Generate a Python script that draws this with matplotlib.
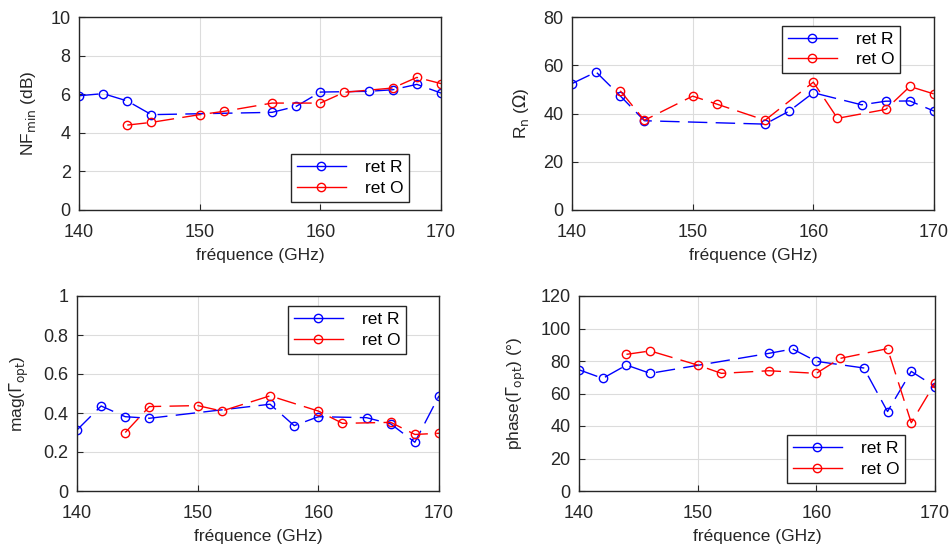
import matplotlib
matplotlib.use("Agg")
import matplotlib.pyplot as plt

plt.rcParams['font.family'] = ['Liberation Sans', 'DejaVu Sans']

# Data
x_R = [140, 142, 144, 146, 156, 158, 160, 164, 166, 168, 170]
x_O = [144, 146, 150, 152, 156, 160, 162, 166, 168, 170]

nf_R = [5.92, 6.03, 5.65, 4.94, 5.06, 5.37, 6.11, 6.15, 6.23, 6.51, 6.06]
nf_O = [4.40, 4.54, 4.94, 5.11, 5.54, 5.54, 6.10, 6.32, 6.87, 6.55]

rn_R = [52.4, 57.2, 47.3, 37.0, 35.6, 41.0, 48.6, 43.6, 45.1, 45.2, 41.0]
rn_O = [49.4, 37.2, 47.2, 43.9, 37.2, 53.0, 38.0, 41.7, 51.2, 48.1]

mag_R = [0.313, 0.436, 0.381, 0.373, 0.445, 0.335, 0.381, 0.376, 0.344, 0.25, 0.488]
mag_O = [0.30, 0.433, 0.438, 0.41, 0.488, 0.41, 0.347, 0.352, 0.29, 0.296]

ph_R = [74.6, 69.3, 77.5, 72.4, 84.7, 87.4, 79.8, 75.7, 48.9, 73.6, 64.3]
ph_O = [84.1, 86.2, 77.5, 72.4, 74.0, 72.4, 81.6, 87.6, 42.0, 66.4]

labels = ["ret R", "ret O"]
xticks = [140, 150, 160, 170]
xlabel = "fréquence (GHz)"

W, H = 949, 551
fig = plt.figure(figsize=(W / 100, H / 100), dpi=100)

def ax_at(l, t, r, b):
    return fig.add_axes([l / W, 1 - b / H, (r - l) / W, (b - t) / H])

panels = [
    dict(box=(79, 17, 441, 210), yR=nf_R, yO=nf_O, ylim=(0, 10), yticks=[0, 2, 4, 6, 8, 10],
         ylabel=r"NF$_{\mathrm{min}}$ (dB)", leg=(292, 153, 408, 203), fmt=None),
    dict(box=(572, 17, 934, 210), yR=rn_R, yO=rn_O, ylim=(0, 80), yticks=[0, 20, 40, 60, 80],
         ylabel=r"R$_{\mathrm{n}}$ ($\Omega$)", leg=(782, 24, 900, 75), fmt=None),
    dict(box=(77, 296, 439, 491), yR=mag_R, yO=mag_O, ylim=(0, 1), yticks=[0, 0.2, 0.4, 0.6, 0.8, 1],
         ylabel=r"mag($\Gamma_{\mathrm{opt}}$)", leg=(287, 304, 407, 356), fmt="mag"),
    dict(box=(579, 296, 935, 491), yR=ph_R, yO=ph_O, ylim=(0, 120), yticks=[0, 20, 40, 60, 80, 100, 120],
         ylabel=r"phase($\Gamma_{\mathrm{opt}}$) (°)", leg=(786, 434, 906, 484), fmt=None),
]

dash = (0, (14, 6))
for p in panels:
    l, t, r, b = p['box']
    ax = ax_at(l, t, r, b)
    ax.plot(x_R, p['yR'], color='#0000ff', linestyle=dash, lw=1.0, marker='o', ms=6,
            mfc='none', mec='#0000ff', mew=1.0, label=labels[0])
    ax.plot(x_O, p['yO'], color='#ff0000', linestyle=dash, lw=1.0, marker='o', ms=6,
            mfc='none', mec='#ff0000', mew=1.0, label=labels[1])
    ax.set_xlim(140, 170)
    ax.set_ylim(*p['ylim'])
    ax.set_xticks(xticks)
    ax.set_yticks(p['yticks'])
    if p['fmt'] == 'mag':
        ax.set_yticklabels(['0', '0.2', '0.4', '0.6', '0.8', '1'])
    ax.grid(True, color='#dcdcdc', lw=0.8)
    ax.set_axisbelow(True)
    ax.tick_params(direction='in', labelsize=13, length=4, colors='#262626')
    ax.tick_params(axis='x', pad=10)
    ax.tick_params(axis='y', pad=6)
    for s in ax.spines.values():
        s.set_color('#262626')
        s.set_linewidth(1.0)
    ax.set_xlabel(xlabel, fontsize=12.5, color='#262626', labelpad=5)
    ax.set_ylabel(p['ylabel'], fontsize=12.5, color='#262626', labelpad=9)
    # legend placement
    ll, lt, lr, lb = p['leg']
    bx0 = (ll - l) / (r - l)
    by0 = (b - lb) / (b - t)
    bw = (lr - ll) / (r - l)
    bh = (lb - lt) / (b - t)
    leg = ax.legend(loc='center', bbox_to_anchor=(bx0, by0, bw, bh), fontsize=12.5,
                    frameon=True, fancybox=False, framealpha=1, edgecolor='#262626',
                    handlelength=2.8, handletextpad=1.1, borderpad=0.35, labelspacing=0.3)
    leg.get_frame().set_linewidth(1.0)
    for h in leg.get_lines():
        h.set_linestyle('-')

fig.savefig("out.png", dpi=100)
